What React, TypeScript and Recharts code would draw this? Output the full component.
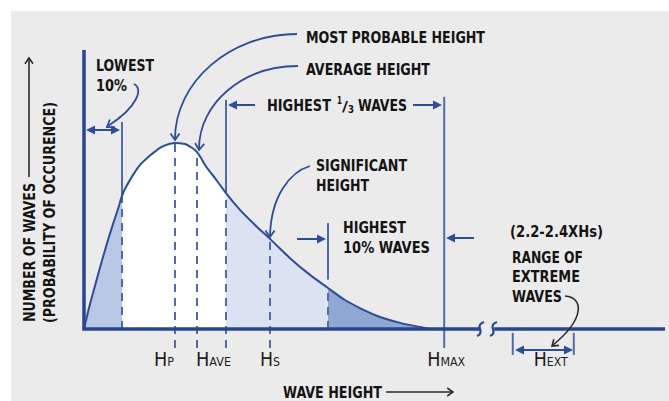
import React from 'react';
import { ComposedChart, Area, Line, XAxis, YAxis, ReferenceLine } from 'recharts';

// Wave height (x, arbitrary units 0..100) and relative number of waves (y, 0..100)
const waveHeight = [0, 0.69, 1.55, 2.41, 3.27, 4.13, 4.99, 5.85, 6.54, 7.23, 7.92, 8.78, 9.64, 10.5, 11.36, 12.22, 13.08, 13.94, 14.8, 15.66, 17.38, 18.24, 19.45, 20.14, 20.83, 21.69, 22.55, 23.41, 24.44, 26.85, 29.43, 32.01, 35.46, 38.9, 42.0, 44.92, 47.5, 50.95, 54.39, 57.83, 59.55];
const probability = [0, 6.1, 12.9, 19.4, 25.8, 31.9, 37.6, 43.0, 47.7, 50.9, 53.4, 56.3, 58.8, 60.6, 62.2, 63.6, 64.9, 65.8, 66.4, 66.7, 66.3, 65.4, 63.4, 61.3, 58.8, 56.3, 54.1, 51.6, 48.7, 42.7, 37.3, 32.3, 25.4, 19.4, 14.7, 10.4, 7.5, 4.3, 2.2, 0.7, 0];

// Characteristic heights
const markerNames = ['L10', 'HP', 'HAVE', 'H13', 'HS', 'H10', 'HMAX'];
const markerX = [6.54, 15.66, 19.45, 24.44, 32.01, 42.0, 62.0];
const markerTop = [74.2, null, null, 82.1, null, 38.0, 83.2];
const markerBelow = [false, true, true, true, true, false, true];

// Axis break and extreme range
const axisBreak = [68.2, 70.6];
const extremeRange = [73.8, 84.3];

// Tick labels
const tickSubs = ['P', 'AVE', 'S', 'MAX', 'EXT'];
const tickValues = [15.66, 19.45, 32.01, 62.0, 79.05];

// Fill segments
const segmentKeys = ['low', 'mid', 'third', 'tenth'];
const segmentFrom = [0, 6.54, 24.44, 42.0];
const segmentTo = [6.54, 24.44, 42.0, 59.55];

const FILLS = ['#b9c9e5', '#ffffff', '#dbe3f2', '#90a7d4'];
const TICK_DX = [-11, 16.5, 0, 2, 7.5];
const TICK_W = [20, 35, 20, 38, 34];
const AXIS = '#284690';
const CURVE = '#2e4d95';
const DASH = '#4e6bab';
const FONT = "'Liberation Sans Narrow', 'DejaVu Sans Condensed', 'Roboto Condensed', 'Liberation Sans', sans-serif";
const BELOW = -6.8;

const data = waveHeight.map((x, i) => {
  const row: any = { x, p: probability[i] };
  segmentKeys.forEach((k, s) => {
    row[k] = x >= segmentFrom[s] && x <= segmentTo[s] ? probability[i] : null;
  });
  return row;
});

const curveAt = (x: number) => probability[waveHeight.indexOf(x)];

const TickLabel = (props: any) => {
  const { x, y, payload } = props;
  const i = tickValues.indexOf(payload.value);
  if (i < 0) return null;
  return (
    <text
      x={x + TICK_DX[i]}
      y={y + 37}
      textAnchor="middle"
      textLength={TICK_W[i]}
      lengthAdjust="spacingAndGlyphs"
      fill="#1d1d1d"
      fontFamily={FONT}
    >
      <tspan fontSize={19}>H</tspan>
      <tspan fontSize={12}>{tickSubs[i]}</tspan>
    </text>
  );
};

const chevron = (tx: number, ty: number, dx: number, dy: number, len = 7, ang = 35) => {
  const l = Math.hypot(dx, dy);
  const ux = dx / l;
  const uy = dy / l;
  const a = (ang * Math.PI) / 180;
  const r = (c: number, s: number) => [-(ux * c - uy * s) * len, -(uy * c + ux * s) * len];
  const [ax, ay] = r(Math.cos(a), Math.sin(a));
  const [bx, by] = r(Math.cos(a), -Math.sin(a));
  return `M${tx + ax},${ty + ay} L${tx},${ty} L${tx + bx},${ty + by}`;
};

const head = (tx: number, ty: number, dir: number, color: string) => {
  const L = 9;
  const W = 4.5;
  return <polygon points={`${tx},${ty} ${tx - dir * L},${ty - W} ${tx - dir * L},${ty + W}`} fill={color} />;
};

const T = (p: { x: number; y: number; w: number; size?: number; children: React.ReactNode }) => (
  <text
    x={p.x}
    y={p.y}
    textLength={p.w}
    lengthAdjust="spacingAndGlyphs"
    fontFamily={FONT}
    fontWeight={700}
    fontSize={p.size || 16}
    fill="#141414"
  >
    {p.children}
  </text>
);

const Overlay = () => {
  const blue = '#2e4d95';
  const dark = '#2b2b2b';
  return (
    <svg width={669} height={401} style={{ position: 'absolute', left: 0, top: 0, pointerEvents: 'none' }}>
      {/* Y-axis title */}
      <text transform="translate(35,322) rotate(-90)" textLength={139} lengthAdjust="spacingAndGlyphs" fontFamily={FONT} fontWeight={700} fontSize={16} fill="#141414">NUMBER OF WAVES</text>
      <text transform="translate(55,323) rotate(-90)" textLength={221} lengthAdjust="spacingAndGlyphs" fontFamily={FONT} fontWeight={700} fontSize={16} fill="#141414">(PROBABILITY OF OCCURENCE)</text>
      <line x1={29} y1={177} x2={29} y2={59} stroke={dark} strokeWidth={1.6} />
      <path d={chevron(29, 58, 0, -1, 7, 35)} stroke={dark} strokeWidth={1.6} fill="none" />

      {/* X-axis title */}
      <T x={283} y={397.5} w={99}>WAVE HEIGHT</T>
      <line x1={386} y1={392} x2={452} y2={392} stroke={dark} strokeWidth={1.6} />
      <path d={chevron(453, 392, 1, 0, 7, 35)} stroke={dark} strokeWidth={1.6} fill="none" />

      {/* Lowest 10% */}
      <T x={96} y={71} w={58}>LOWEST</T>
      <T x={96} y={91} w={31}>10%</T>
      <path d="M134,84 C143,88 139,106 108,126" stroke={blue} strokeWidth={1.8} fill="none" />
      <path d={chevron(107, 127, -13, 9, 8, 35)} stroke={blue} strokeWidth={1.8} fill="none" />
      <line x1={92} y1={130} x2={114} y2={130} stroke={blue} strokeWidth={2} />
      {head(86, 130, -1, blue)}
      {head(120, 130, 1, blue)}

      {/* Most probable / average */}
      <T x={306} y={43} w={179}>MOST PROBABLE HEIGHT</T>
      <path d="M297,34 C230,34 175,82 175,139" stroke={blue} strokeWidth={1.8} fill="none" />
      <path d={chevron(175, 140, 0, 1, 8, 35)} stroke={blue} strokeWidth={1.8} fill="none" />
      <T x={306} y={75} w={124}>AVERAGE HEIGHT</T>
      <path d="M298,66 C243,66 199,103 199,149" stroke={blue} strokeWidth={1.8} fill="none" />
      <path d={chevron(199, 150, -0.1, 1, 8, 35)} stroke={blue} strokeWidth={1.8} fill="none" />

      {/* Highest 1/3 */}
      <T x={267} y={111} w={64}>HIGHEST</T>
      <T x={337} y={104} w={5} size={10}>1</T>
      <T x={342} y={111} w={6} size={14}>/</T>
      <T x={348} y={113} w={6} size={10}>3</T>
      <T x={358} y={111} w={49}>WAVES</T>
      <line x1={255} y1={105} x2={236} y2={105} stroke={blue} strokeWidth={2} />
      {head(228, 105, -1, blue)}
      <line x1={413} y1={105} x2={434} y2={105} stroke={blue} strokeWidth={2} />
      {head(442, 105, 1, blue)}

      {/* Significant */}
      <T x={316} y={171} w={91}>SIGNIFICANT</T>
      <T x={316} y={191} w={53}>HEIGHT</T>
      <path d="M310,166 C290,172 271,196 270,236" stroke={blue} strokeWidth={1.8} fill="none" />
      <path d={chevron(270, 237, 0, 1, 8, 35)} stroke={blue} strokeWidth={1.8} fill="none" />

      {/* Highest 10% */}
      <T x={343} y={233} w={63}>HIGHEST</T>
      <T x={343} y={253} w={87}>10% WAVES</T>
      <line x1={297} y1={239} x2={318} y2={239} stroke={blue} strokeWidth={2} />
      {head(326, 239, 1, blue)}

      {/* Hmax */}
      <line x1={474} y1={238} x2={454} y2={238} stroke={blue} strokeWidth={2} />
      {head(446, 238, -1, blue)}

      {/* Extreme */}
      <T x={510} y={237} w={93}>(2.2-2.4XHs)</T>
      <T x={512} y={263} w={71}>RANGE OF</T>
      <T x={512} y={282} w={68}>EXTREME</T>
      <T x={512} y={302} w={50}>WAVES</T>
      <path d="M565,296 C583,297 586,318 553,345" stroke={dark} strokeWidth={1.6} fill="none" />
      <path d={chevron(552, 346, -12, 10, 7, 35)} stroke={dark} strokeWidth={1.6} fill="none" />
      <line x1={522} y1={350} x2={566} y2={350} stroke={blue} strokeWidth={2} />
      {head(515, 350, -1, blue)}
      {head(573, 350, 1, blue)}

      {/* Axis break marks */}
      <path d="M477,336 Q482,334 480,329 Q478,324 484,322" stroke={AXIS} strokeWidth={2.2} fill="none" />
      <path d="M490,336 Q495,334 493,329 Q491,324 497,322" stroke={AXIS} strokeWidth={2.2} fill="none" />
    </svg>
  );
};

export default function App() {
  return (
    <div style={{ position: 'absolute', left: 0, top: 0, width: 669, height: 401, background: '#ffffff', overflow: 'hidden' }}>
      <div style={{ position: 'absolute', left: 11, top: 11, width: 658, height: 390, background: '#ebebeb' }} />
      <div style={{ position: 'absolute', left: 0, top: 0 }}>
        <ComposedChart width={669} height={401} data={data} margin={{ top: 50, right: 4, bottom: 42, left: 84 }}>
          <XAxis
            dataKey="x"
            type="number"
            domain={[0, 100]}
            ticks={tickValues}
            interval={0}
            tick={<TickLabel />}
            axisLine={false}
            tickLine={false}
            tickSize={0}
            tickMargin={0}
            height={30}
            allowDataOverflow
          />
          <YAxis type="number" domain={[0, 100]} hide allowDataOverflow />
          {segmentKeys.map((k, s) => (
            <Area
              key={k}
              dataKey={k}
              type="monotone"
              stroke="none"
              fill={FILLS[s]}
              fillOpacity={1}
              isAnimationActive={false}
              connectNulls={false}
            />
          ))}
          {markerNames.map((n, i) => {
            const x = markerX[i];
            const c = n === 'HMAX' ? 0 : curveAt(x);
            const lines = [];
            if (n !== 'HMAX') {
              lines.push(
                <ReferenceLine
                  key={n + 'd'}
                  segment={[{ x, y: markerBelow[i] ? BELOW : 0 }, { x, y: c }]}
                  stroke={DASH}
                  strokeWidth={2}
                  strokeDasharray="8 6"
                  ifOverflow="visible"
                />
              );
            }
            const top = markerTop[i];
            if (top !== null) {
              const bottom = n === 'HMAX' ? BELOW : n === 'H10' ? c + 3 : c;
              lines.push(
                <ReferenceLine
                  key={n + 's'}
                  segment={[{ x, y: bottom }, { x, y: top }]}
                  stroke={DASH}
                  strokeWidth={2}
                  ifOverflow="visible"
                />
              );
            }
            return lines;
          })}
          <Line dataKey="p" type="monotone" stroke={CURVE} strokeWidth={2} dot={false} isAnimationActive={false} />
          <ReferenceLine segment={[{ x: 0, y: 0 }, { x: 0, y: 100 }]} stroke={AXIS} strokeWidth={3.5} ifOverflow="visible" />
          <ReferenceLine segment={[{ x: -0.3, y: 0 }, { x: axisBreak[0], y: 0 }]} stroke={AXIS} strokeWidth={3.5} ifOverflow="visible" />
          <ReferenceLine segment={[{ x: axisBreak[1], y: 0 }, { x: 100, y: 0 }]} stroke={AXIS} strokeWidth={3.5} ifOverflow="visible" />
          {extremeRange.map((x) => (
            <ReferenceLine key={'e' + x} segment={[{ x, y: -1.4 }, { x, y: -9.3 }]} stroke={DASH} strokeWidth={2} ifOverflow="visible" />
          ))}
        </ComposedChart>
      </div>
      <Overlay />
    </div>
  );
}
